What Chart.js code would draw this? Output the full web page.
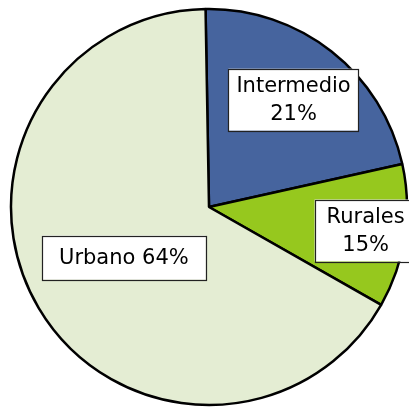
<!DOCTYPE html>
<html>
<head>
<meta charset="utf-8">
<script src="https://cdn.jsdelivr.net/npm/chart.js@4/dist/chart.umd.min.js"></script>
<style>
    html, body { margin: 0; padding: 0; background: #ffffff; }
    #wrap { width: 409px; height: 408px; }
</style>
</head>
<body>
<div id="wrap"><canvas id="pie" width="409" height="408"></canvas></div>
<script>
// slices, clockwise from the top
const categories = ["Intermedio", "Rurales", "Urbano"];
const sliceShares = [21.8, 11.7, 66.5];   // size of each slice as drawn
const shareLabels = ["21%", "15%", "64%"]; // percentages printed in the boxes
const twoLineLabel = [true, true, false];

const sliceColors = ["#46649e", "#96c81e", "#e4edd3"];

// label box placement: fraction of radius along the slice's middle angle
const labelDist = [0.69, 0.80, 0.50];
const labelPad = [[8, 3], [12, 3], [17, 8]];

// draws the white boxed labels on top of the slices
const boxLabels = {
    id: "boxLabels",
    afterDatasetsDraw(chart) {
        const ctx = chart.ctx;
        const arcs = chart.getDatasetMeta(0).data;
        ctx.save();
        ctx.font = "21px 'DejaVu Sans'";
        ctx.textAlign = "center";
        ctx.textBaseline = "middle";
        const lineH = 28;
        arcs.forEach((arc, i) => {
            const mid = (arc.startAngle + arc.endAngle) / 2;
            const r = arc.outerRadius * labelDist[i];
            const cx = arc.x + Math.cos(mid) * r;
            const cy = arc.y + Math.sin(mid) * r;
            const lines = twoLineLabel[i]
                ? [categories[i], shareLabels[i]]
                : [categories[i] + " " + shareLabels[i]];
            const w = Math.max(...lines.map(l => ctx.measureText(l).width)) + labelPad[i][0] * 2;
            const h = lines.length * lineH + labelPad[i][1] * 2;
            ctx.fillStyle = "#ffffff";
            ctx.fillRect(cx - w / 2, cy - h / 2, w, h);
            ctx.strokeStyle = "#222222";
            ctx.lineWidth = 1.2;
            ctx.strokeRect(Math.round(cx - w / 2) + 0.5, Math.round(cy - h / 2) + 0.5, Math.round(w), Math.round(h));
            ctx.fillStyle = "#000000";
            lines.forEach((l, k) => {
                ctx.fillText(l, cx, cy + 1 + (k - (lines.length - 1) / 2) * lineH);
            });
        });
        ctx.restore();
    }
};

new Chart(document.getElementById("pie"), {
    type: "pie",
    data: {
        labels: categories,
        datasets: [{
            data: sliceShares,
            backgroundColor: sliceColors,
            borderColor: "#000000",
            borderWidth: 2.5,
            borderAlign: "center"
        }]
    },
    options: {
        responsive: false,
        animation: false,
        rotation: -1,
        radius: 198,
        layout: { padding: { left: 12, right: 3, top: 10, bottom: 4 } },
        plugins: {
            legend: { display: false },
            tooltip: { enabled: false }
        }
    },
    plugins: [boxLabels]
});
</script>
</body>
</html>
